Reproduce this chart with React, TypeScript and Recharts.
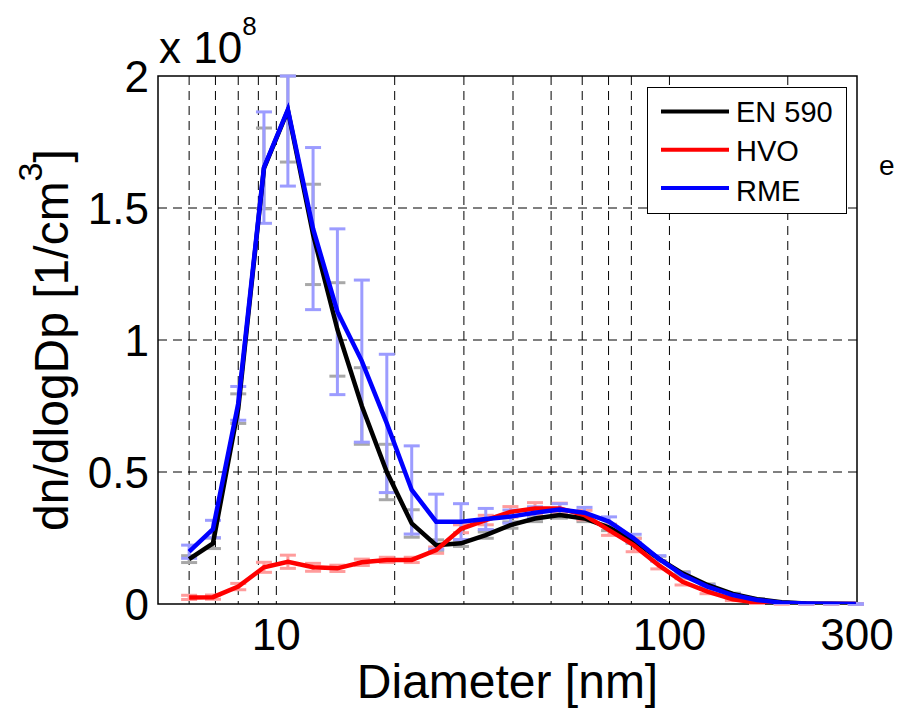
import { LineChart, Line, XAxis, YAxis, CartesianGrid, ErrorBar, ReferenceArea } from "recharts";

const FONT = "'Liberation Sans', Arial, Helvetica, sans-serif";

// particle diameters [nm]
const diameters = [6.0, 6.9, 8.0, 9.3, 10.7, 12.4, 14.3, 16.5, 19.1, 22.1, 25.5, 29.5, 34.1, 39.4, 45.5, 52.6, 60.8, 70.2, 81.1, 93.7, 108, 125, 145, 167, 193, 223, 258, 298];

// dn/dlogDp in units of 1e8 1/cm3
const en590 = [0.17, 0.23, 0.74, 1.65, 1.87, 1.40, 1.04, 0.75, 0.50, 0.305, 0.223, 0.23, 0.261, 0.299, 0.324, 0.337, 0.324, 0.29, 0.24, 0.173, 0.116, 0.072, 0.038, 0.018, 0.007, 0.002, 0.001, 0];
const hvo = [0.025, 0.026, 0.066, 0.139, 0.16, 0.139, 0.135, 0.158, 0.167, 0.167, 0.204, 0.285, 0.318, 0.349, 0.362, 0.362, 0.337, 0.28, 0.223, 0.148, 0.084, 0.047, 0.018, 0.005, 0.001, 0, 0, 0];
const rme = [0.198, 0.284, 0.76, 1.653, 1.873, 1.422, 1.107, 0.92, 0.684, 0.432, 0.312, 0.312, 0.322, 0.331, 0.346, 0.358, 0.346, 0.312, 0.249, 0.173, 0.11, 0.066, 0.034, 0.015, 0.005, 0.002, 0.001, 0];

// error bar half widths
const en590Err = [0.013, 0.02, 0.056, 0.153, 0.196, 0.19, 0.177, 0.145, 0.105, 0.052, 0.02, 0.012, 0.012, 0.012, 0.012, 0.012, 0.012, 0.012, 0.01, 0.008, 0.006, 0.004, 0.003, 0.002, 0.001, 0.001, 0.001, 0.001];
const hvoErr = [0.008, 0.008, 0.012, 0.019, 0.025, 0.015, 0.012, 0.012, 0.01, 0.01, 0.012, 0.015, 0.018, 0.02, 0.022, 0.02, 0.018, 0.02, 0.025, 0.015, 0.012, 0.008, 0.005, 0.003, 0.002, 0.001, 0.001, 0.001];
const rmeErr = [0.025, 0.033, 0.064, 0.211, 0.29, 0.307, 0.314, 0.307, 0.262, 0.167, 0.104, 0.068, 0.04, 0.025, 0.022, 0.022, 0.02, 0.018, 0.015, 0.01, 0.008, 0.006, 0.004, 0.003, 0.002, 0.002, 0.001, 0.001];

const xTicks = [10, 100, 300];
const yTicks = [0, 0.5, 1, 1.5, 2];
const xGrid = [6, 7, 8, 9, 10, 20, 30, 40, 50, 60, 70, 80, 90, 100, 200];
const yGrid = [0.5, 1, 1.5];
const Y_MAX = 2;

const series = [
    { key: "en590", name: "EN 590", color: "#000000", errColor: "#a8a8a8", values: en590, err: en590Err },
    { key: "hvo", name: "HVO", color: "#ff0000", errColor: "#ff9c9c", values: hvo, err: hvoErr },
    { key: "rme", name: "RME", color: "#0000ff", errColor: "#9c9cff", values: rme, err: rmeErr },
];

// error bars are cut at the top of the axes, like the plot box clips them
const data = diameters.map((d, i) => {
    const row: any = { d };
    series.forEach((s) => {
        const v = s.values[i];
        row[s.key] = v;
        row[s.key + "Err"] = [s.err[i], Math.min(s.err[i], Y_MAX - v)];
    });
    return row;
});

function YTitle(props: any) {
    const { x, y, height } = props.viewBox;
    const cx = x + 68;
    const cy = y + height / 2;
    return (
        <g fontFamily={FONT} fill="#000">
            <text x={cx} y={cy} fontSize={48} textAnchor="middle" transform={`rotate(-90, ${cx}, ${cy})`}>
                dn/dlogDp [1/cm
                <tspan dy={-26} fontSize={34}>3</tspan>
                <tspan dy={26}>]</tspan>
            </text>
            <text x={x + 159} y={y - 13} fontSize={44}>
                x 10
                <tspan dy={-28} fontSize={26}>8</tspan>
            </text>
        </g>
    );
}

function XTitle(props: any) {
    const { x, y, width } = props.viewBox;
    return (
        <text x={x + width / 2} y={y + 94} fontSize={48} fontFamily={FONT} textAnchor="middle" fill="#000">
            Diameter [nm]
        </text>
    );
}

function LegendBox() {
    return (
        <div style={{ position: "absolute", left: 647, top: 87, width: 200, height: 127, background: "#fff", border: "1.5px solid #000", boxSizing: "border-box" }}>
            <svg width={198} height={124}>
                {series.map((s, i) => (
                    <g key={s.key}>
                        <line x1={13} x2={81} y1={23.5 + i * 38.3} y2={23.5 + i * 38.3} stroke={s.color} strokeWidth={4} />
                        <text x={88} y={33.5 + i * 39.5} fontSize={29} fontFamily={FONT} fill="#000">{s.name}</text>
                    </g>
                ))}
            </svg>
        </div>
    );
}

export default function App() {
    return (
        <div style={{ position: "absolute", left: 0, top: 0, width: 897, height: 709, background: "#fff", overflow: "hidden" }}>
            <LineChart width={897} height={709} data={data} margin={{ top: 76, right: 40, left: 0, bottom: 0 }}>
                <CartesianGrid stroke="#000" strokeDasharray="9 6" strokeWidth={1} verticalValues={xGrid} horizontalValues={yGrid} />
                <XAxis
                    dataKey="d"
                    type="number"
                    scale="log"
                    domain={[5, 300]}
                    allowDataOverflow
                    ticks={xTicks}
                    tickSize={0}
                    tickMargin={15}
                    axisLine={false}
                    height={105}
                    tick={{ fontSize: 44, fill: "#000", fontFamily: FONT }}
                    label={<XTitle />}
                />
                <YAxis
                    type="number"
                    domain={[0, Y_MAX]}
                    allowDataOverflow
                    ticks={yTicks}
                    tickSize={0}
                    tickMargin={9}
                    axisLine={false}
                    width={158}
                    tick={{ fontSize: 44, fill: "#000", fontFamily: FONT }}
                    tickFormatter={(v: number) => String(v)}
                    label={<YTitle />}
                />
                {series.map((s) => (
                    <Line key={s.key + "-err"} dataKey={s.key} stroke="none" dot={false} activeDot={false} legendType="none" isAnimationActive={false}>
                        <ErrorBar dataKey={s.key + "Err"} direction="y" width={8} stroke={s.errColor} strokeWidth={3} isAnimationActive={false} />
                    </Line>
                ))}
                {series.map((s) => (
                    <Line key={s.key} dataKey={s.key} name={s.name} type="linear" stroke={s.color} strokeWidth={4.5} dot={false} activeDot={false} isAnimationActive={false} />
                ))}
                <ReferenceArea x1={5} x2={300} y1={0} y2={Y_MAX} fill="none" fillOpacity={0} stroke="#000" strokeWidth={1.5} />
            </LineChart>
            <LegendBox />
            <div style={{ position: "absolute", left: 879, top: 150, fontSize: 28, fontFamily: FONT }}>e</div>
        </div>
    );
}
